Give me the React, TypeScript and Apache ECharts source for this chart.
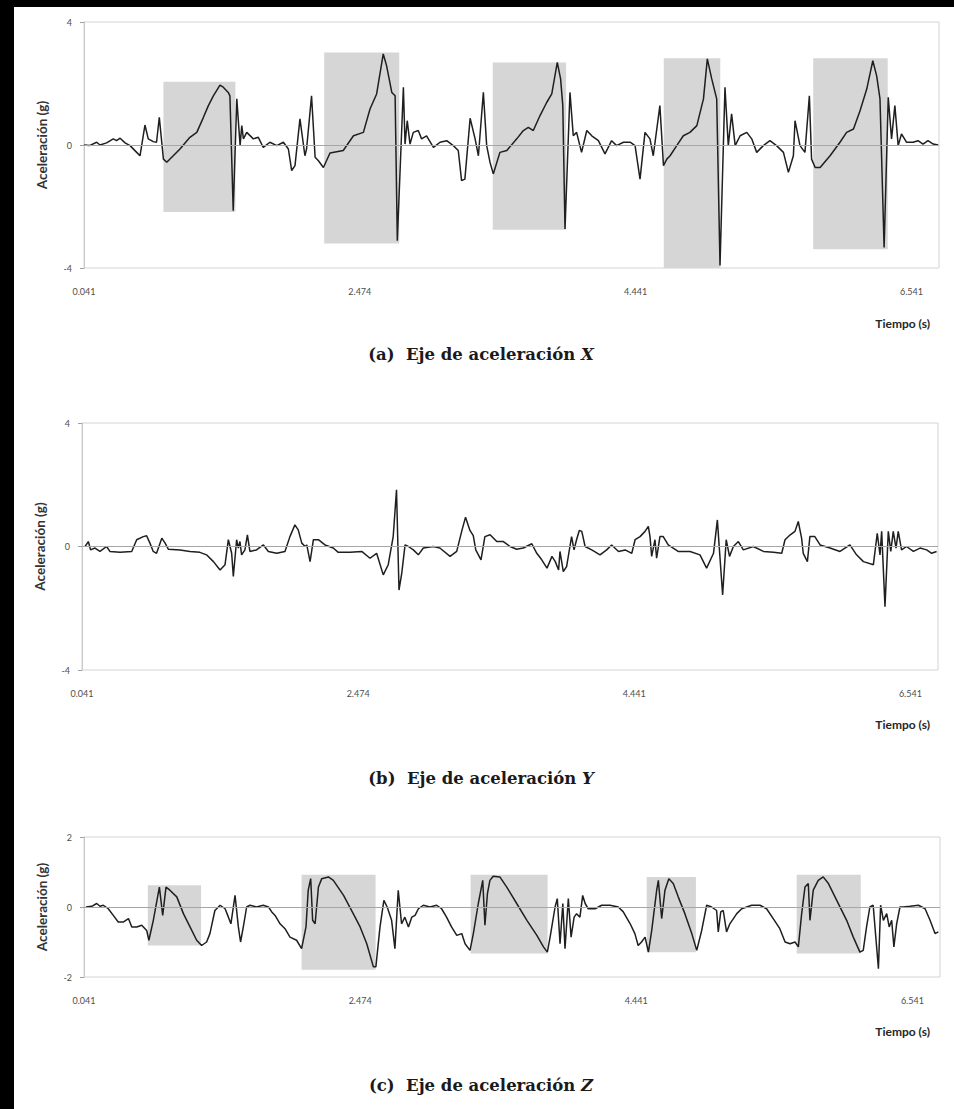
import React, { useEffect, useRef } from "react";
import * as echarts from "echarts";

// Time labels shown under the sample-index axis (one every 100 samples)
const timeLabels = ["0.041", "2.474", "4.441", "6.541"];
const labelStep = 100;
const lastSample = 310;

// Acceleration X axis: [sample index, g]
const accelX: number[][] = [
  [0, 0], [2, -0.02], [4.6, 0.09], [5.8, 0], [8.2, 0.07], [10.6, 0.2], [11.8, 0.14], [13.1, 0.22],
  [14.9, 0.07], [16.7, -0.02], [19.1, -0.24], [20.3, -0.35], [22.1, 0.65], [23.3, 0.2], [25.1, 0.11],
  [26.3, 0.09], [27.3, 0.9], [28.8, -0.46], [30, -0.56], [34.8, -0.13], [38.4, 0.25], [40.9, 0.41],
  [43.3, 0.9], [45.1, 1.28], [46.9, 1.6], [49.3, 1.95], [50.5, 1.88], [52.3, 1.71], [52.9, 1.6],
  [54.1, -2.14], [55.4, 1.5], [56.6, -0.02], [57.2, 0.63], [57.8, 0.2], [59, 0.41], [61.4, 0.2],
  [63.2, 0.25], [65, -0.08], [67.4, 0.09], [69.9, -0.02], [72.3, 0.09], [74.1, -0.13], [75.3, -0.83],
  [76.5, -0.67], [78.3, 0.85], [80.1, -0.35], [80.7, -0.13], [82.5, 1.6], [83.8, -0.4], [85, -0.51],
  [86.8, -0.73], [89.2, -0.26], [91.6, -0.22], [94, -0.18], [97.7, 0.3], [101.3, 0.41], [103.7, 1.17],
  [106.1, 1.66], [108.5, 2.96], [109.7, 2.58], [111.6, 1.71], [112.8, 1.6], [113.6, -3.11], [115.8, 1.88],
  [116.4, 0.03], [117.2, 0.79], [118.2, 0.03], [119.4, 0.41], [121.2, 0.47], [122.4, 0.2], [124.2, 0.3],
  [126.7, -0.08], [129.1, 0.09], [131.5, 0.14], [133.9, -0.02], [135.7, -0.18], [136.9, -1.16],
  [138.1, -1.11], [140, 0.87], [141.8, 0.2], [143, -0.35], [144.8, 1.71], [146, -0.02], [147.2, -0.56],
  [148.4, -0.94], [150.8, -0.24], [153.3, -0.18], [156.9, 0.2], [159.3, 0.47], [161.1, 0.57],
  [162.9, 0.47], [165.3, 0.95], [167.8, 1.39], [169.6, 1.66], [171.6, 2.69], [172.8, 2.15], [173.6, 1.28],
  [174.4, -2.73], [176.2, 1.71], [177.4, 0.3], [178.6, 0.41], [180.4, -0.24], [182.3, 0.47], [184.1, 0.3],
  [186.5, 0.14], [188.9, -0.29], [191.3, 0.14], [193.1, -0.02], [195.6, 0.09], [198, 0.09], [199.8, -0.02],
  [201.6, -1.11], [203.4, 0.41], [205.2, 0.2], [206.4, -0.35], [208.8, 1.28], [210.1, -0.67],
  [211.3, -0.46], [212.5, -0.35], [214.9, -0.02], [217.3, 0.3], [219.7, 0.41], [222.2, 0.63], [224.6, 1.5],
  [226, 2.8], [227.6, 2.15], [229.4, 1.5], [230.6, -3.92], [232.4, 1.88], [233.6, -0.02], [234.8, 1.01],
  [236.1, -0.02], [237.9, 0.3], [240.3, 0.41], [242.1, 0.2], [243.9, -0.24], [246.3, -0.02], [248.7, 0.14],
  [251.1, -0.02], [253.6, -0.24], [255.4, -0.89], [257.2, -0.35], [257.8, 0.79], [259.6, -0.02],
  [261.4, -0.24], [263, 1.6], [263.8, -0.46], [265.1, -0.73], [266.9, -0.73], [270.5, -0.35], [274.1, 0.09],
  [276.5, 0.41], [279, 0.52], [281.4, 1.12], [283.8, 1.82], [286, 2.74], [287.4, 2.25], [288.6, 1.5],
  [290.1, -3.33], [291.6, 1.55], [292.8, 0.2], [294, 1.28], [295.2, -0.02], [296.4, 0.36], [298.2, 0.09],
  [300.6, 0.09], [302.4, 0.14], [304.2, 0.03], [306, 0.14], [307.9, 0.03], [309.7, 0],
];

// Acceleration Y axis
const accelY: number[][] = [
  [1.1, 0], [2.3, 0.16], [3.1, -0.11], [4.7, -0.05], [6.5, -0.16], [8.9, 0], [10.1, -0.16], [13.8, -0.19],
  [18, -0.16], [19.8, 0.22], [22.2, 0.32], [23.4, 0.35], [24.6, 0.11], [25.8, -0.16], [27, -0.22],
  [28.9, 0.27], [30.1, 0.11], [31.3, -0.09], [35.5, -0.11], [39.1, -0.16], [42.7, -0.19], [45.1, -0.27],
  [47.6, -0.49], [50, -0.76], [51.8, -0.59], [53, 0.22], [54.2, -0.22], [54.8, -0.97], [56, 0.22],
  [56.6, -0.05], [57.2, 0.16], [57.8, -0.27], [59, -0.11], [59.9, 0.38], [60.8, -0.16], [63.2, -0.11],
  [65.7, 0.05], [67.5, -0.16], [70.5, -0.22], [73.5, -0.16], [75.3, 0.32], [77.1, 0.7], [78.3, 0.54],
  [79.6, 0.11], [80.8, 0], [81.4, 0.05], [82.6, -0.49], [83.8, 0.22], [85.6, 0.22], [88, 0.05],
  [91, -0.05], [92.8, -0.19], [97.1, -0.19], [101.3, -0.16], [104.3, -0.38], [106.7, -0.22], [109.1, -0.92],
  [110.9, -0.59], [112.7, 0.32], [113.9, 1.84], [114.8, -1.41], [115.8, -0.86], [117, 0.05], [118.2, 0],
  [120, -0.11], [121.8, -0.27], [123.6, -0.05], [127.2, 0], [129.6, -0.05], [133.3, -0.32], [135.7, -0.16],
  [137.5, 0.49], [138.9, 0.95], [140.5, 0.52], [141.7, 0.35], [142.6, -0.11], [144.5, -0.43], [145.9, 0.32],
  [147.8, 0.38], [150.2, 0.16], [152.6, 0.16], [155, 0], [157.4, -0.09], [159.8, -0.05], [162.9, 0.09],
  [164.7, -0.22], [166.5, -0.43], [168.4, -0.7], [170.2, -0.32], [171.4, -0.49], [172.6, -0.76],
  [173.1, -0.16], [174.3, -0.81], [175.5, -0.65], [176.7, 0], [177.3, 0.32], [178.2, -0.11], [179.1, 0.22],
  [180.1, 0.52], [181, 0.49], [182.2, 0], [184.6, -0.11], [187.6, -0.27], [190, -0.11], [191.8, 0.05],
  [194.3, -0.16], [196.7, -0.11], [199.1, -0.22], [200.3, 0.22], [202.1, 0.32], [203.9, 0.49], [205.1, 0.65],
  [205.7, 0.32], [206.3, -0.32], [207.5, 0.22], [208.1, -0.38], [209.3, 0.32], [210.5, 0.32], [212.3, 0.05],
  [215.9, -0.16], [220.2, -0.16], [223.8, -0.27], [226.2, -0.7], [228.7, -0.22], [230.1, 0.86], [230.8, -0.05],
  [232, -1.57], [233.3, 0.22], [234.5, -0.32], [235.9, 0], [237.7, 0.16], [239.5, -0.11], [243.1, 0],
  [246.8, -0.16], [250.4, -0.19], [253.4, -0.22], [254.6, 0.22], [256.5, 0.38], [258.2, 0.49], [259.4, 0.81],
  [260.6, 0.27], [261.2, -0.22], [262.7, -0.49], [263.6, 0.32], [265.4, 0.32], [267.3, 0.05], [270.9, -0.05],
  [274.5, -0.16], [278.1, 0.05], [280.5, -0.27], [283, -0.49], [286.6, -0.59], [288, 0.43], [289, -0.27],
  [289.6, 0.49], [290.8, -1.95], [292, 0.49], [292.9, -0.16], [293.8, 0.49], [294.8, -0.05], [295.6, 0.49],
  [296.8, -0.11], [298.6, 0], [301.1, -0.16], [303.5, -0.05], [305.9, -0.11], [307.7, -0.22], [309.5, -0.16],
];

// Acceleration Z axis
const accelZ: number[][] = [
  [0.7, 0], [2.8, 0.02], [4.6, 0.1], [5.8, 0.02], [7, 0.05], [8.8, -0.05], [10.6, -0.24], [12.4, -0.43],
  [14.2, -0.43], [16.1, -0.33], [17.3, -0.57], [19.1, -0.57], [20.9, -0.52], [22.7, -0.67], [23.5, -0.95],
  [25.1, -0.38], [27.3, 0.57], [28.5, -0.24], [29.7, 0.57], [31.1, 0.48], [33.6, 0.29], [36, -0.19],
  [38.4, -0.57], [40.8, -0.95], [42.6, -1.1], [44.4, -1], [45.6, -0.76], [47.4, -0.1], [49.3, 0.05],
  [51.1, -0.05], [52.3, -0.29], [53.2, -0.48], [54.7, 0.33], [55.9, -0.57], [56.7, -1], [57.7, -0.57],
  [58.9, 0], [60.1, 0.05], [62.5, 0], [64.9, 0.05], [66.8, 0], [68, -0.14], [69.2, -0.24], [71, -0.48],
  [72.8, -0.62], [74.6, -0.86], [77, -0.95], [78.8, -1.19], [80.4, -0.57], [81.2, 0.48], [82.1, 0.81],
  [82.8, -0.38], [83.7, -0.48], [84.9, 0.57], [86.1, 0.81], [88.5, 0.86], [90.3, 0.76], [94, 0.33],
  [97.5, -0.19], [100, -0.57], [102.4, -1.05], [104.8, -1.71], [105.7, -1.71], [107.2, -0.57], [108.6, 0.19],
  [109.8, 0], [111.4, -0.38], [112.6, -1.19], [113.8, 0.48], [115, -0.48], [116.2, -0.29], [117.5, -0.57],
  [118.7, -0.29], [119.9, -0.24], [121.1, -0.05], [122.9, 0.05], [125.3, 0], [127.7, 0.05], [129.5, -0.05],
  [131.3, -0.29], [133.1, -0.57], [135, -0.81], [136.8, -0.76], [138, -1.05], [139.8, -1.24], [141, -0.76],
  [142.8, 0.1], [144.4, 0.76], [145.2, -0.52], [146.1, 0.38], [147, 0.76], [148.2, 0.88], [150.6, 0.86],
  [153.1, 0.57], [156.7, 0.1], [160.4, -0.38], [164, -0.81], [166.4, -1.14], [167.8, -1.29], [168.8, -0.86],
  [170.6, 0], [171.4, 0.24], [172.4, -1.05], [173.4, 0.1], [174.2, -1.19], [175.4, 0.24], [176.4, -0.86],
  [177.5, -0.29], [178.4, -0.19], [179.6, -0.29], [180.6, 0.33], [181.5, 0.1], [182.6, -0.05], [185.1, -0.05],
  [187.5, 0.05], [190.5, 0.05], [193.5, 0], [195.3, -0.14], [197.8, -0.48], [199.5, -0.76], [200.7, -1.1],
  [201.9, -1], [203.2, -0.86], [204.4, -1.29], [205.6, -0.67], [207.4, 0.48], [208, 0.76], [209.2, -0.33],
  [210.4, 0.48], [211.8, 0.81], [213.4, 0.67], [215.2, 0.29], [217.6, -0.19], [220.1, -0.76], [221.9, -1.24],
  [223.7, -0.67], [225.5, 0.05], [227.3, 0], [229.1, -0.1], [229.7, -0.71], [230.6, -0.14], [231.5, -0.1],
  [232.7, -0.71], [233.9, -0.48], [236.4, -0.19], [238.2, -0.05], [240, 0], [241.8, 0.05], [244.8, 0.05],
  [247.2, -0.05], [249.6, -0.33], [252, -0.62], [253.9, -1], [255.7, -1.05], [257.5, -1], [258.7, -1.14],
  [259.9, -0.19], [261.1, 0.57], [262.3, 0.67], [262.9, -0.38], [264.1, 0.48], [265.9, 0.76], [267.7, 0.86],
  [269.6, 0.67], [272.6, 0.19], [276.2, -0.38], [278.6, -0.86], [281, -1.29], [282.2, -1.24], [283.4, -0.57],
  [284.6, 0], [285.8, 0.05], [287.7, -1.76], [288.5, 0.05], [289.5, -0.38], [290.7, -0.19], [291.6, -0.57],
  [292.5, -0.38], [293.3, -1.14], [294.3, -0.48], [295.5, 0], [296.7, 0], [299.1, 0.02], [302.2, 0.05],
  [304.6, -0.05], [306.4, -0.38], [308.2, -0.76], [309.4, -0.71],
];

// Highlighted gestures: [startSample, endSample, low g, high g]
const gesturesX: number[][] = [
  [28.8, 54.9, -2.18, 2.06], [87.1, 114.3, -3.2, 3.01], [148.2, 174.8, -2.76, 2.68],
  [210.2, 230.7, -4, 2.82], [264.4, 291.4, -3.39, 2.82],
];
const gesturesZ: number[][] = [
  [23.1, 42.4, -1.1, 0.62], [78.8, 105.6, -1.79, 0.92], [140, 167.9, -1.33, 0.92],
  [203.8, 221.6, -1.29, 0.86], [258.1, 281.3, -1.33, 0.92],
];

const yRanges = [4, 4, 2];
const captions = [
  ["(a)", "X"],
  ["(b)", "Y"],
  ["(c)", "Z"],
];

const LABEL_FONT = "Lato";

export default function App() {
  const ref = useRef<HTMLDivElement>(null);

  useEffect(() => {
    if (!ref.current) return;
    const chart = echarts.init(ref.current, undefined, { renderer: "svg" });

    const grids = [
      { left: 84, top: 22, width: 855, height: 246 },
      { left: 82, top: 423, width: 856, height: 247 },
      { left: 84, top: 837, width: 856, height: 140 },
    ];
    const tiempoY = [323, 724, 1031];
    const captionY = [354, 778, 1085];

    const xAxes = grids.map((_, i) => ({
      gridIndex: i,
      type: "value",
      min: 0,
      max: lastSample,
      interval: labelStep,
      axisLine: { show: false },
      axisTick: { show: false },
      splitLine: { show: false },
      axisLabel: {
        margin: 19,
        fontSize: 9,
        fontFamily: LABEL_FONT,
        color: "#4d4d4d",
        showMaxLabel: false,
        formatter: (v: number) => {
          const k = v / labelStep;
          return Number.isInteger(k) && k < timeLabels.length ? timeLabels[k] : "";
        },
      },
    }));

    const yAxes = grids.map((_, i) => ({
      gridIndex: i,
      type: "value",
      min: -yRanges[i],
      max: yRanges[i],
      interval: yRanges[i],
      name: "Aceleración (g)",
      nameLocation: "middle",
      nameRotate: 90,
      nameGap: 35,
      nameTextStyle: { fontSize: 13.5, fontFamily: LABEL_FONT, fontWeight: "bold", color: "#333333" },
      axisLine: { show: true, lineStyle: { color: "#c8c8c8", width: 1 } },
      axisTick: { show: true, length: 4, lineStyle: { color: "#a0a0a0" } },
      splitLine: { show: false },
      axisLabel: { margin: 12, fontSize: 9, fontFamily: LABEL_FONT, color: "#4d4d4d" },
    }));

    const datasets = [accelX, accelY, accelZ];
    const gestures = [gesturesX, [], gesturesZ];

    const series = datasets.map((d, i) => ({
      type: "line",
      xAxisIndex: i,
      yAxisIndex: i,
      data: d,
      symbol: "none",
      showSymbol: false,
      lineStyle: { color: "#1f1f1f", width: 1.5 },
      z: 3,
      markLine: {
        silent: true,
        symbol: "none",
        label: { show: false },
        lineStyle: { color: "#a6a6a6", width: 1, type: "solid" },
        data: [{ yAxis: 0 }],
      },
      markArea: {
        silent: true,
        itemStyle: { color: "#d6d6d6" },
        data: gestures[i].map((g) => [
          { xAxis: g[0], yAxis: g[3] },
          { xAxis: g[1], yAxis: g[2] },
        ]),
      },
    }));

    const graphic: any[] = [
      { type: "rect", shape: { x: 0, y: 0, width: 14, height: 1109 }, style: { fill: "#000" }, silent: true },
      { type: "rect", shape: { x: 0, y: 0, width: 954, height: 7 }, style: { fill: "#000" }, silent: true },
    ];
    tiempoY.forEach((y) => {
      graphic.push({
        type: "text",
        x: 930,
        y,
        style: {
          text: "Tiempo (s)",
          align: "right",
          verticalAlign: "middle",
          fontSize: 12,
          fontFamily: LABEL_FONT,
          fontWeight: "bold",
          fill: "#262626",
        },
      });
    });
    captionY.forEach((y, i) => {
      graphic.push({
        type: "text",
        x: 481,
        y,
        style: {
          text: `{n|${captions[i][0]}  Eje de aceleración }{i|${captions[i][1]}}`,
          align: "center",
          verticalAlign: "middle",
          rich: {
            n: { fontFamily: "DejaVu Serif", fontSize: 16.5, fontWeight: "bold", fill: "#1a1a1a" },
            i: { fontFamily: "DejaVu Serif", fontSize: 16.5, fontWeight: "bold", fontStyle: "italic", fill: "#1a1a1a" },
          },
        },
      });
    });

    chart.setOption({
      animation: false,
      backgroundColor: "#ffffff",
      grid: grids.map((g) => ({ ...g, show: true, borderColor: "#d4d4d4", borderWidth: 1, backgroundColor: "transparent" })),
      xAxis: xAxes,
      yAxis: yAxes,
      series,
      graphic,
    });

    return () => chart.dispose();
  }, []);

  return (
    <div
      ref={ref}
      style={{ position: "absolute", left: 0, top: 0, width: 954, height: 1109 }}
    />
  );
}
